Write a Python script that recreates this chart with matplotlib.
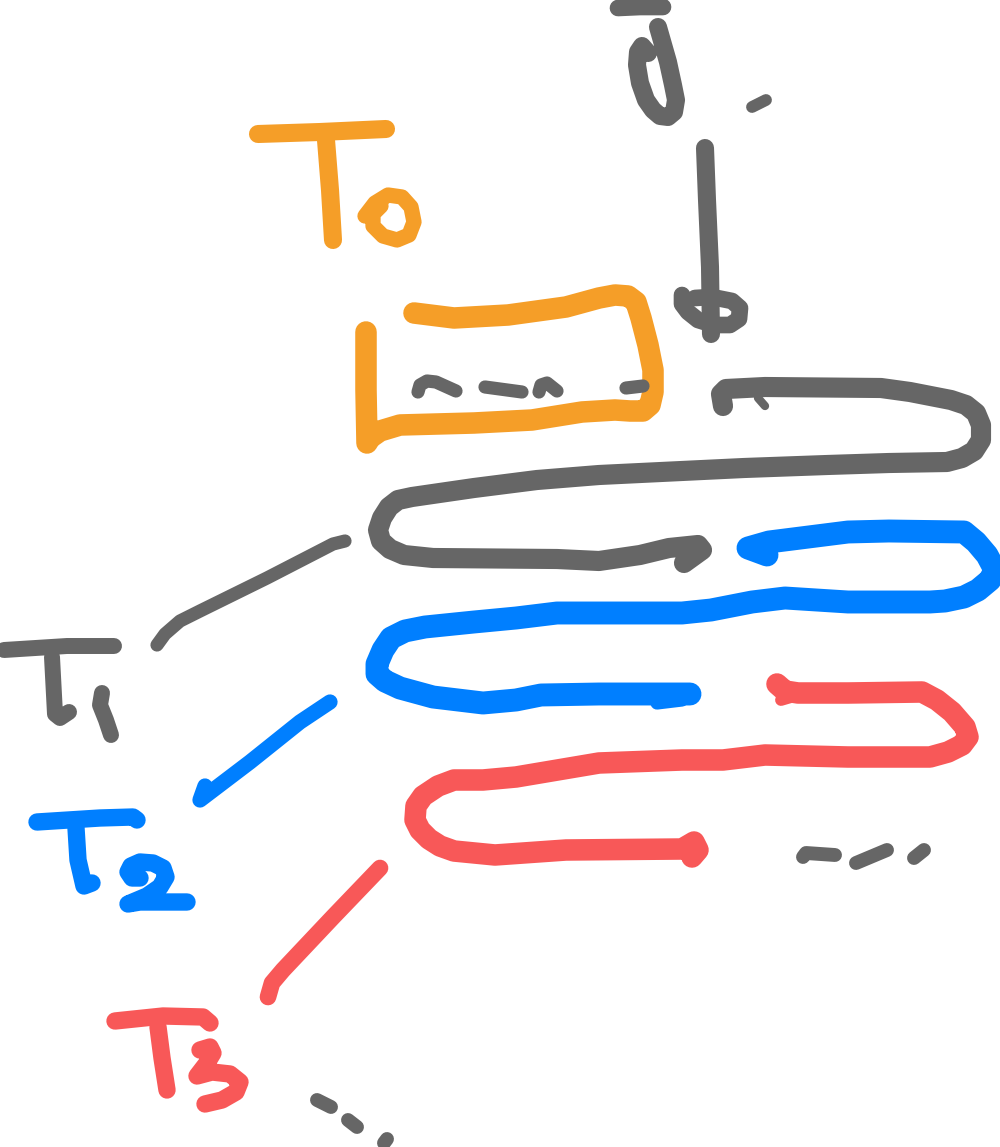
import numpy as np
import matplotlib.pyplot as plt

# colours of the sketch
orange = '#F59E28'
gray = '#666666'
blue = '#007FFF'
red = '#F85858'

# --- strokes, in picture pixels (x, y) ---
# T0
t0_bar = [(258, 134), (320, 132), (386, 129)]
t0_stem = [(326, 140), (330, 190), (333, 240)]
t0_o = [(365, 216), (375, 203), (388, 195), (402, 197), (411, 207), (414, 222),
        (409, 235), (397, 240), (383, 236), (373, 226), (373, 214), (381, 206)]
t0_box = [(414, 313), (454, 318), (508, 315), (566, 307), (599, 298), (615, 295),
          (628, 296), (636, 302), (641, 318), (648, 345), (653, 370), (653, 392),
          (650, 405), (643, 411), (630, 411), (615, 410), (582, 412), (532, 420),
          (474, 423), (400, 425), (380, 431), (370, 438), (367, 443), (366, 390),
          (366, 332)]

# gray dashes inside the box
dash1 = [(418, 392), (420, 385), (427, 381), (436, 382), (456, 391)]
dash2 = [(485, 387), (522, 392)]
dash3 = [(539, 392), (541, 385), (547, 383), (557, 391)]
dash4 = [(626, 388), (643, 386)]

# psi on top
psi_bar = [(618, 8), (640, 7), (663, 7)]
psi_cup = [(648, 53), (642, 46), (638, 52), (637, 65), (640, 83), (646, 100),
           (653, 110), (660, 116), (668, 117), (674, 112), (676, 100), (673, 85),
           (668, 62), (658, 27)]
psi_tick = [(752, 107), (766, 100)]

# phi stroke
phi_stem = [(705, 148), (707, 200), (710, 267), (711, 334)]
phi_loop = [(682, 295), (682, 304), (688, 312), (698, 320), (714, 325), (730, 325),
            (739, 319), (740, 308), (732, 301), (712, 297), (695, 298)]

# gray serpentine (T1)
gray_path = [(723, 406), (721, 394), (726, 389), (765, 387), (881, 388), (910, 392),
             (951, 400), (966, 405), (976, 413), (981, 425), (981, 440), (974, 451),
             (962, 458), (947, 462), (889, 463), (827, 465), (744, 468), (661, 472),
             (599, 475), (537, 480), (474, 488), (412, 497), (398, 500), (389, 507),
             (382, 518), (378, 530), (381, 541), (390, 549), (404, 555), (433, 558),
             (557, 559), (599, 561), (640, 555), (669, 548), (698, 545), (702, 550),
             (684, 563)]
gray_tick = [(758, 398), (765, 406)]
gray_to_t1 = [(345, 541), (333, 544), (267, 578), (200, 611), (180, 621), (165, 634),
              (157, 645)]

# T1
t1_bar = [(4, 650), (67, 646), (114, 646)]
t1_stem = [(52, 657), (55, 714), (60, 718), (69, 712)]
t1_one = [(102, 693), (100, 705), (106, 720), (111, 735)]

# blue serpentine (T2)
blue_path = [(767, 555), (748, 548), (769, 542), (848, 532), (889, 531), (964, 532),
             (976, 542), (987, 555), (995, 570), (990, 580), (978, 590), (964, 597),
             (945, 601), (930, 602), (848, 602), (785, 598), (752, 602), (711, 610),
             (682, 613), (619, 613), (557, 613), (516, 618), (474, 622), (425, 627),
             (405, 631), (391, 638), (383, 650), (377, 664), (377, 674), (385, 681),
             (400, 688), (433, 697), (483, 703), (516, 700), (541, 695), (599, 694),
             (690, 694)]
blue_barb = [(657, 703), (682, 700)]
blue_to_t2 = [(330, 702), (300, 722), (250, 762), (200, 800), (205, 786)]

# T2
t2_bar = [(37, 822), (100, 818), (133, 817), (137, 820)]
t2_stem = [(76, 828), (78, 860), (84, 886), (92, 883)]
t2_two = [(140, 878), (132, 878), (128, 872), (131, 866), (140, 862), (153, 863),
          (163, 868), (166, 877), (160, 887), (147, 896), (128, 904), (140, 902),
          (187, 902)]

# red serpentine (T3)
red_path = [(777, 684), (785, 691), (798, 693), (848, 693), (922, 692), (937, 700),
            (952, 712), (965, 727), (968, 737), (962, 745), (948, 752), (930, 757),
            (848, 757), (765, 755), (723, 760), (682, 760), (599, 763), (516, 777),
            (483, 780), (454, 780), (438, 786), (423, 796), (416, 806), (415, 820),
            (420, 830), (429, 839), (440, 846), (454, 851), (495, 855), (566, 850),
            (682, 849), (694, 842), (698, 850), (692, 857)]
red_barb = [(781, 700), (798, 695)]
red_to_t3 = [(380, 868), (333, 917), (283, 970), (272, 983), (268, 997)]

# T3
t3_bar = [(115, 1021), (163, 1016), (203, 1017), (210, 1023)]
t3_stem = [(158, 1027), (162, 1058), (167, 1090)]
t3_three = [(200, 1050), (210, 1047), (213, 1053), (207, 1063), (197, 1076),
            (212, 1072), (230, 1074), (240, 1082), (236, 1092), (222, 1100),
            (205, 1104)]

# trailing dots
dots_bottom = [[(317, 1100), (331, 1107)], [(348, 1120), (357, 1127)],
               [(387, 1139), (384, 1143)]]
dots_right = [[(803, 857), (806, 853), (835, 855)], [(856, 863), (887, 850)],
              [(914, 858), (924, 850)]]

fig = plt.figure(figsize=(10, 11.47), dpi=100)
ax = fig.add_axes([0, 0, 1, 1])
ax.set_xlim(0, 1000)
ax.set_ylim(1147, 0)
ax.axis('off')


def stroke(pts, color, lw):
    pts = np.array(pts)
    ax.plot(pts[:, 0], pts[:, 1], color=color, lw=lw,
            solid_capstyle='round', solid_joinstyle='round')


for s in [t0_bar, t0_stem]:
    stroke(s, orange, 13)
stroke(t0_o, orange, 11)
stroke(t0_box, orange, 15.5)

for s in [dash1, dash2, dash3, dash4]:
    stroke(s, gray, 9.5)

stroke(psi_bar, gray, 12)
stroke(psi_cup, gray, 13)
stroke(psi_tick, gray, 8.5)
stroke(phi_stem, gray, 13)
stroke(phi_loop, gray, 12)

stroke(gray_path, gray, 14.5)
stroke(gray_tick, gray, 6)
stroke(gray_to_t1, gray, 9.5)
for s in [t1_bar, t1_stem, t1_one]:
    stroke(s, gray, 11.5)

stroke(blue_path, blue, 16.5)
stroke(blue_barb, blue, 9.5)
stroke(blue_to_t2, blue, 11)
for s in [t2_bar, t2_stem, t2_two]:
    stroke(s, blue, 12.5)

stroke(red_path, red, 15.5)
stroke(red_barb, red, 8.5)
stroke(red_to_t3, red, 12)
for s in [t3_bar, t3_stem, t3_three]:
    stroke(s, red, 12.5)

for s in dots_bottom + dots_right:
    stroke(s, gray, 10)

fig.savefig('out.png', dpi=100, facecolor='white')
